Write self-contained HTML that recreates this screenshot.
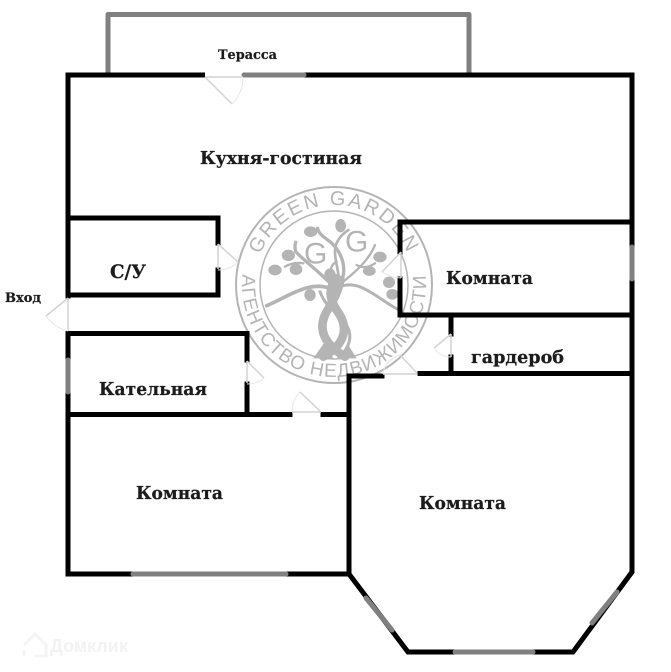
<!DOCTYPE html>
<html><head><meta charset="utf-8"><style>
html,body{margin:0;padding:0;background:#fff}
svg{display:block}
.w{stroke:#000;stroke-width:5;fill:none;stroke-linecap:square}
.g{stroke:#808080;stroke-width:5;fill:none;stroke-linecap:round}
.d{stroke:#d2d2d2;stroke-width:1.5;fill:none}
.a{stroke:#e6e6e6;stroke-width:1;fill:none}
.t{font-family:"DejaVu Serif","Liberation Serif",serif;font-weight:bold;fill:#1c1c1c;stroke:#1c1c1c;stroke-width:.25}
.wm{font-family:"Liberation Sans",sans-serif;fill:#b4b4b4}
</style></head><body>
<svg width="671" height="672" viewBox="0 0 671 672" xmlns="http://www.w3.org/2000/svg">
<defs>
<path id="top" d="M254 285A80 80 0 0 1 414 285"/>
<path id="bot" d="M243.4 269A92 92 0 1 0 424.6 269"/>
</defs>
<!-- watermark -->
<g>
<circle cx="334" cy="285" r="98" fill="none" stroke="#b4b4b4" stroke-width="2"/>
<circle cx="334" cy="285" r="74" fill="none" stroke="#b4b4b4" stroke-width="1.5"/>
<text class="wm" font-size="20" letter-spacing="2.2"><textPath href="#top" startOffset="50%" text-anchor="middle">GREEN GARDEN</textPath></text>
<text class="wm" font-size="19" letter-spacing="1.2"><textPath href="#bot" startOffset="50%" text-anchor="middle">АГЕНТСТВО НЕДВИЖИМОСТИ</textPath></text>
<g transform="translate(265 215) scale(.3333)">
<g fill="none" stroke="#b4b4b4" stroke-linecap="round">
<path stroke-width="26" d="M175 425C245 385 250 335 218 290C192 250 190 225 212 190"/>
<path stroke-width="26" d="M240 425C165 380 160 330 188 285C205 255 218 235 226 195"/>
<path stroke-width="9" d="M238 320C268 360 252 395 230 420M165 230C180 270 200 280 220 300"/>
<path stroke-width="11" d="M205 225C140 190 70 245 5 272"/>
<path stroke-width="9" d="M225 215C290 190 345 260 412 290"/>
<path stroke-width="10" d="M205 215C170 175 120 140 92 110Q88 95 92 82"/>
<path stroke-width="10" d="M225 210C250 160 230 110 195 80C175 65 160 55 158 40"/>
<path stroke-width="8" d="M222 205C225 165 195 110 220 75Q228 60 250 45"/>
<path stroke-width="7" d="M235 200C265 175 310 140 330 90M60 155Q85 140 115 145M205 205Q185 155 215 140M275 150Q300 165 330 145"/>
</g>
<g fill="#b4b4b4">
<ellipse cx="137" cy="50" rx="20" ry="16"/>
<ellipse cx="227" cy="32" rx="16" ry="20"/>
<ellipse cx="70" cy="121" rx="20" ry="17"/>
<ellipse cx="30" cy="165" rx="20" ry="16"/>
<ellipse cx="93" cy="163" rx="19" ry="17"/>
<ellipse cx="195" cy="180" rx="17" ry="20"/>
<ellipse cx="345" cy="126" rx="20" ry="16"/>
<ellipse cx="313" cy="168" rx="19" ry="15"/>
<ellipse cx="372" cy="202" rx="18" ry="17"/>
<ellipse cx="382" cy="238" rx="18" ry="16"/>
<ellipse cx="135" cy="240" rx="17" ry="18"/>
<path d="M145 430L180 380L205 430ZM215 430L250 390L275 430Z"/>
</g>
<text x="152" y="145" font-family="Liberation Sans,sans-serif" font-size="90" fill="#b4b4b4" text-anchor="middle">G</text>
<text x="275" y="110" font-family="Liberation Sans,sans-serif" font-size="90" fill="#b4b4b4" text-anchor="middle">G</text>
</g>
</g>
<!-- terrace -->
<path class="g" d="M108 73V14.5H469V73" stroke-linejoin="round"/>
<!-- walls -->
<path class="w" stroke-linejoin="miter" d="M68 296V75H632V572L573 652H408L349 574"/>
<path class="w" d="M68 335V574H349V376H382M420 373.5H632M68 218H218V243M218 270V295H68M68 333.5H247V360M247 384V414.5M68 414.5H290M323 414.5H349M400 252V222H632M400 279V315H632M451 315V334M451 357V373"/>
<!-- gaps over walls -->
<path d="M205 75H243" stroke="#fff" stroke-width="7"/>
<!-- grey wall -->
<path class="g" d="M244 75H304M133 574H286M68 360V392M632 247V279M455 652H533M366 598L392 630M617 592L592 623" stroke-linecap="round"/>
<!-- doors -->
<path class="d" d="M205 77H243M205 77L232 104M218 244V269M218 244L238 262M68 298V331M68 298L46 316M247 361V383M247 361L264 378M292 412H321M321 412L300 392M383 374H417M417 373L400 355M401 252V278M401 252L382 272M451 334V357M451 334L434 348"/>
<path class="a" d="M232 104Q243 93 243 77M238 262Q230 270 218 270M46 316Q55 328 68 331M264 378Q258 384 247 384M300 392Q292 400 292 412M400 355Q385 360 383 374M382 272Q392 278 401 278M434 348Q440 357 451 357"/>
<!-- labels -->
<text class="t" x="218" y="59" font-size="13" textLength="59" lengthAdjust="spacingAndGlyphs">Терасса</text>
<text class="t" x="200" y="164" font-size="18" textLength="162" lengthAdjust="spacingAndGlyphs">Кухня-гостиная</text>
<text class="t" x="110" y="278" font-size="18.5" textLength="36" lengthAdjust="spacingAndGlyphs">С/У</text>
<text class="t" x="5" y="302" font-size="13" textLength="36" lengthAdjust="spacingAndGlyphs">Вход</text>
<text class="t" x="446" y="284" font-size="18" textLength="87" lengthAdjust="spacingAndGlyphs">Комната</text>
<text class="t" x="471" y="363" font-size="18" textLength="93" lengthAdjust="spacingAndGlyphs">гардероб</text>
<text class="t" x="99" y="395" font-size="18" textLength="108" lengthAdjust="spacingAndGlyphs">Кательная</text>
<text class="t" x="136" y="499" font-size="18" textLength="87" lengthAdjust="spacingAndGlyphs">Комната</text>
<text class="t" x="419" y="509" font-size="18" textLength="87" lengthAdjust="spacingAndGlyphs">Комната</text>
<!-- domclick -->
<path d="M24 645L35 634L46 645V656H35M24 650V656" fill="none" stroke="#f4f4f4" stroke-width="3"/>
<text x="50" y="652" font-family="Liberation Sans,sans-serif" font-weight="bold" font-size="18" fill="#f2f2f2">Домклик</text>
</svg>
</body></html>
